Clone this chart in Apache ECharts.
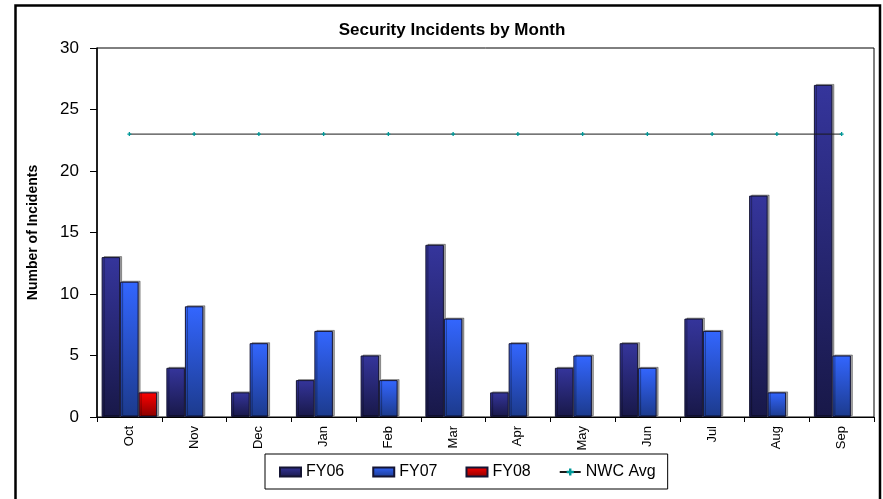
<!DOCTYPE html>
<html>
<head>
<meta charset="utf-8">
<script src="https://cdn.jsdelivr.net/npm/echarts@6/dist/echarts.min.js"></script>
<style>
  html, body { margin: 0; padding: 0; background: #fff; }
  #main { width: 883px; height: 499px; }
</style>
</head>
<body>
<div id="main"></div>
<script>
// chart values
var months = ['Oct', 'Nov', 'Dec', 'Jan', 'Feb', 'Mar', 'Apr', 'May', 'Jun', 'Jul', 'Aug', 'Sep'];
var fy06 = [13, 4, 2, 3, 5, 14, 2, 4, 6, 8, 18, 27];
var fy07 = [11, 9, 6, 7, 3, 8, 6, 5, 4, 7, 2, 5];
var fy08 = [2, null, null, null, null, null, null, null, null, null, null, null];
var nwcAvg = [23, 23, 23, 23, 23, 23, 23, 23, 23, 23, 23, 23];
var yTicks = [0, 5, 10, 15, 20, 25, 30];

var FONT = 'Liberation Sans, Arial, sans-serif';

function grad(top, bottom) {
    return new echarts.graphic.LinearGradient(0, 0, 0, 1, [
        { offset: 0, color: top },
        { offset: 1, color: bottom }
    ]);
}

function barStyle(top, bottom) {
    return {
        color: grad(top, bottom),
        borderColor: '#141433',
        borderWidth: 1,
        shadowColor: 'rgba(0,0,0,0.35)',
        shadowOffsetX: 2,
        shadowOffsetY: -1,
        shadowBlur: 0
    };
}

var myChart = echarts.init(document.getElementById('main'), null, { renderer: 'canvas' });

var option = {
    animation: false,
    backgroundColor: '#fff',
    textStyle: { fontFamily: FONT },
    title: {
        text: 'Security Incidents by Month',
        left: 447,
        textAlign: 'center',
        top: 17,
        textStyle: { fontSize: 17, fontWeight: 'bold', color: '#000', fontFamily: FONT }
    },
    graphic: [{
        type: 'rect',
        shape: { x: 15.5, y: 5.5, width: 864.5, height: 510 },
        style: { fill: 'none', stroke: '#000', lineWidth: 2.5 },
        silent: true,
        z: 100
    }],
    legend: {
        left: 265,
        top: 454,
        padding: [10, 12, 9, 14],
        itemWidth: 21,
        itemHeight: 9,
        itemGap: 28,
        borderColor: '#000',
        borderWidth: 1,
        textStyle: { fontSize: 16, color: '#000', fontFamily: FONT },
        data: [
            { name: 'FY06', icon: 'rect' },
            { name: 'FY07', icon: 'rect' },
            { name: 'FY08', icon: 'rect' },
            { name: 'NWC Avg' }
        ]
    },
    grid: {
        left: 97,
        right: 9,
        top: 48,
        bottom: 82,
        show: true,
        borderColor: '#000',
        borderWidth: 1
    },
    xAxis: {
        type: 'category',
        data: months,
        axisLine: { lineStyle: { color: '#000', width: 1 } },
        axisTick: { show: true, length: 5, lineStyle: { color: '#000' } },
        axisLabel: {
            rotate: 90,
            margin: 9,
            fontSize: 13,
            color: '#000',
            fontFamily: FONT
        }
    },
    yAxis: {
        type: 'value',
        min: yTicks[0],
        max: yTicks[yTicks.length - 1],
        interval: 5,
        name: 'Number of Incidents',
        nameLocation: 'middle',
        nameGap: 57,
        nameTextStyle: { fontSize: 14, fontWeight: 'bold', color: '#000', fontFamily: FONT },
        axisLine: { show: true, lineStyle: { color: '#000', width: 1.5 } },
        axisTick: { show: true, length: 7, lineStyle: { color: '#000' } },
        axisLabel: { margin: 18, fontSize: 17, color: '#000', fontFamily: FONT },
        splitLine: { show: false }
    },
    series: [
        {
            name: 'FY06',
            type: 'bar',
            data: fy06,
            barGap: '0%',
            barCategoryGap: '14.3%',
            itemStyle: barStyle('#35359c', '#181848')
        },
        {
            name: 'FY07',
            type: 'bar',
            data: fy07,
            itemStyle: barStyle('#3366ff', '#1c3a8c')
        },
        {
            name: 'FY08',
            type: 'bar',
            data: fy08,
            itemStyle: barStyle('#ff0000', '#880000')
        },
        {
            name: 'NWC Avg',
            type: 'line',
            data: nwcAvg,
            symbol: 'path://M0,1H3V2H0Z M1,0H2V3H1Z',
            symbolSize: 4,
            lineStyle: { color: '#1a1a1a', width: 1 },
            itemStyle: { color: '#009999', borderWidth: 0 },
            z: 5
        }
    ]
};

myChart.setOption(option);
</script>
</body>
</html>
